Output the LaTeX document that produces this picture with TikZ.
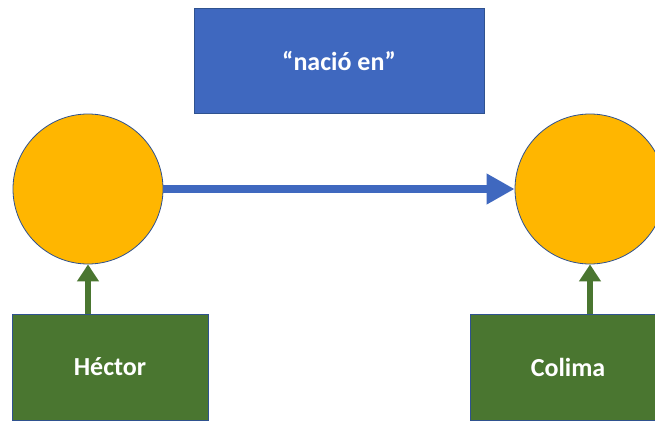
\documentclass[tikz,border=0pt]{standalone}
\usepackage{fontspec}
\setmainfont{Carlito}
\usetikzlibrary{arrows.meta}
\definecolor{gold}{HTML}{FFB600}
\definecolor{relblue}{HTML}{3F68BF}
\definecolor{edgeblue}{HTML}{2F528F}
\definecolor{leafgreen}{HTML}{4A7630}
\tikzset{
  entity/.style={circle, fill=gold, draw=edgeblue, line width=0.8pt, minimum size=150pt, inner sep=0pt},
  relbox/.style={rectangle, fill=relblue, draw=edgeblue, line width=0.8pt, minimum width=290pt, minimum height=105pt, text=white, font=\bfseries\fontsize{26}{30}\selectfont},
  namebox/.style={rectangle, fill=leafgreen, draw=edgeblue, line width=0.8pt, minimum width=196pt, minimum height=106pt, text=white, font=\bfseries\fontsize{26}{30}\selectfont},
  relarrow/.style={draw=relblue, line width=7.5pt, -{Triangle[length=28pt, width=29pt]}},
  namearrow/.style={draw=leafgreen, line width=6pt, -{Triangle[length=17pt, width=21pt]}}
}
\begin{document}
\begin{tikzpicture}[x=1pt, y=-1pt]
  \useasboundingbox (0,0) rectangle (655,420);
  \fill[white] (0,0) rectangle (655,420);
  \node[relbox] (rel) at (339,60.5) {“nació en”};
  \node[entity] (subj) at (88,189) {};
  \node[entity] (obj) at (590,189) {};
  \node[namebox] (hector) at (110,367) {Héctor};
  \node[namebox] (colima) at (568,367) {Colima};
  \draw[relarrow] (subj.east) -- (obj.west);
  \draw[namearrow] (hector.north -| subj.south) -- (subj.south);
  \draw[namearrow] (colima.north -| obj.south) -- (obj.south);
\end{tikzpicture}
\end{document}
